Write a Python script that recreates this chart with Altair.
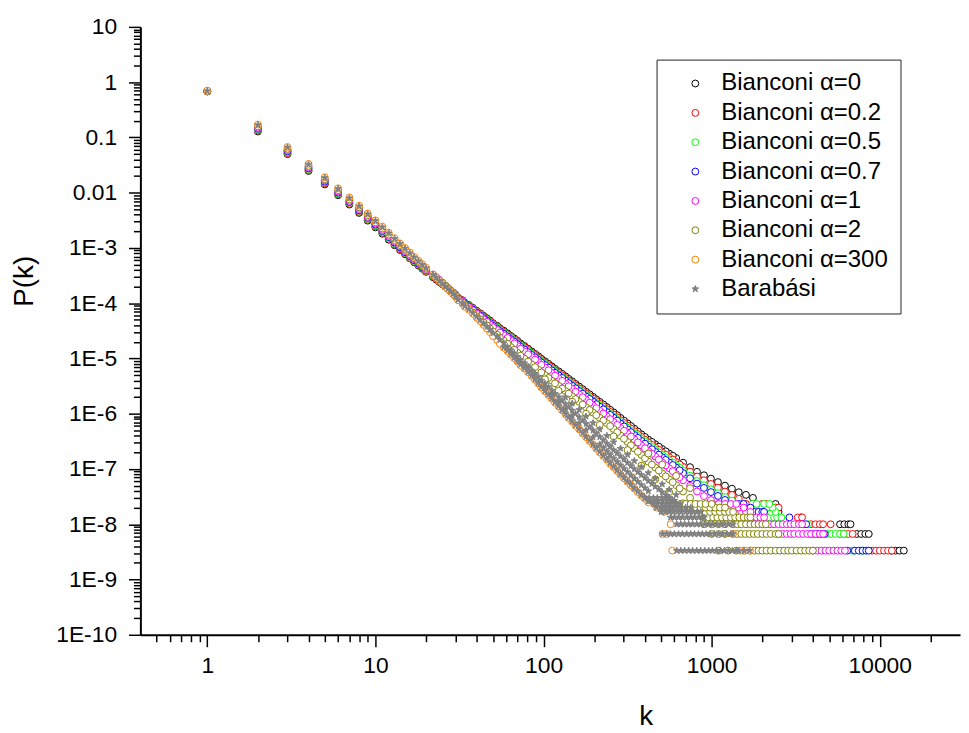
import altair as alt
import pandas as pd

SERIES = ["Bianconi α=0", "Bianconi α=0.2", "Bianconi α=0.5", "Bianconi α=0.7",
          "Bianconi α=1", "Bianconi α=2", "Bianconi α=300", "Barabási"]
COLORS = ["#000000", "#FF0000", "#00FF00", "#0000FF", "#FF00FF", "#808000", "#FF8000", "#808080"]
FILLS = ["#FFFFFF"] * 7 + ["#808080"]
SIZES = [48] * 7 + [75]
STAR = ("M0,-1L0.235,-0.324L0.951,-0.309L0.38,0.124L0.588,0.809L0,0.4"
        "L-0.588,0.809L-0.38,0.124L-0.951,-0.309L-0.235,-0.324Z")
SHAPES = ["circle"] * 7 + [STAR]

# degree values
K_LOW = [1, 2, 3, 4, 5, 6, 7, 8, 9, 10, 11, 12, 13, 14, 15, 16, 17, 18, 19, 20]
K_MID = [22, 24, 26, 28, 30, 33, 36, 40, 44, 48, 53, 58, 64, 70, 77, 85, 93, 102, 112, 123,
         135, 148, 163, 179, 197, 216, 238, 261, 287, 316, 347, 382, 420, 462, 508, 559, 615,
         676, 744, 818, 900, 990, 1090, 1200, 1320, 1450, 1600, 1760]
K_MID2 = [23, 25, 27, 29, 31, 34, 38, 42, 46, 50, 55, 61, 67, 73, 81, 89, 97, 107, 117, 129,
          141, 155, 171, 188, 206, 227, 249, 274, 301, 331, 364, 401, 441, 485, 533, 587, 645]

# P(k), low degrees
BLACK_LOW = [0.68, 0.128, 0.050, 0.0247, 0.0141, 0.0090, 0.0061, 0.0043, 0.00312, 0.00236,
             0.00181, 0.00141, 0.00112, 0.00092, 0.00077, 0.00065, 0.00055, 0.00048, 0.00042, 0.00037]
RED_LOW = [0.68, 0.133, 0.052, 0.0257, 0.0147, 0.0093, 0.0063, 0.0045, 0.00324, 0.00245,
           0.00188, 0.00146, 0.00116, 0.00095, 0.00079, 0.00066, 0.00056, 0.00049, 0.00043, 0.000378]
GREEN_LOW = [0.69, 0.138, 0.054, 0.0267, 0.0153, 0.0097, 0.0066, 0.0047, 0.00336, 0.00254,
             0.00195, 0.00152, 0.00121, 0.00099, 0.00081, 0.00069, 0.00058, 0.00050, 0.00044, 0.000387]
BLUE_LOW = [0.69, 0.143, 0.056, 0.0276, 0.0158, 0.0100, 0.0068, 0.0048, 0.0035, 0.00264,
            0.00202, 0.00157, 0.00125, 0.00102, 0.00084, 0.00071, 0.00060, 0.00052, 0.00045, 0.000395]
MAGENTA_LOW = [0.69, 0.150, 0.059, 0.0289, 0.0166, 0.0105, 0.0071, 0.0051, 0.00365, 0.00276,
               0.00212, 0.00165, 0.00131, 0.00107, 0.00088, 0.00074, 0.00063, 0.00054, 0.00047, 0.00040]
OLIVE_LOW = [0.69, 0.158, 0.062, 0.0305, 0.0175, 0.0111, 0.0075, 0.0054, 0.0039, 0.0029,
             0.00224, 0.00174, 0.00139, 0.00113, 0.00093, 0.00077, 0.00065, 0.00056, 0.00048, 0.00042]
ORANGE_LOW = [0.70, 0.171, 0.067, 0.0332, 0.0190, 0.0120, 0.0082, 0.0058, 0.0042, 0.00316,
              0.00243, 0.00189, 0.0015, 0.00121, 0.0010, 0.00083, 0.00069, 0.00059, 0.00051, 0.00044]
GRAY_LOW = [0.69, 0.168, 0.066, 0.0325, 0.0186, 0.0118, 0.0080, 0.0057, 0.0041, 0.0031,
            0.00238, 0.00185, 0.00147, 0.00119, 0.00098, 0.00081, 0.00068, 0.00058, 0.00050, 0.00043]

# P(k) at K_MID
BLACK_MID = [2.95e-4, 2.42e-4, 2.0e-4, 1.67e-4, 1.41e-4, 1.13e-4, 9.3e-5, 7.3e-5, 5.9e-5, 4.87e-5,
             3.9e-5, 3.18e-5, 2.55e-5, 2.08e-5, 1.68e-5, 1.34e-5, 1.10e-5, 8.9e-6, 7.2e-6, 5.85e-6,
             4.75e-6, 3.86e-6, 3.1e-6, 2.5e-6, 2.02e-6, 1.64e-6, 1.32e-6, 1.06e-6, 8.4e-7, 6.7e-7,
             5.35e-7, 4.25e-7, 3.4e-7, 2.8e-7, 2.3e-7, 1.9e-7, 1.58e-7, 1.3e-7, 1.08e-7, 8.9e-8,
             7.7e-8, 6.7e-8, 5.8e-8, 5.0e-8, 4.4e-8, 3.8e-8, 3.4e-8, 3.0e-8]
RED_MID = [3.04e-4, 2.47e-4, 2.02e-4, 1.67e-4, 1.40e-4, 1.12e-4, 9.16e-5, 7.15e-5, 5.75e-5, 4.72e-5,
           3.76e-5, 3.05e-5, 2.44e-5, 1.98e-5, 1.60e-5, 1.27e-5, 1.04e-5, 8.37e-6, 6.77e-6, 5.47e-6,
           4.44e-6, 3.59e-6, 2.88e-6, 2.31e-6, 1.87e-6, 1.51e-6, 1.21e-6, 9.7e-7, 7.64e-7, 6.06e-7,
           4.82e-7, 3.8e-7, 3.03e-7, 2.46e-7, 2.0e-7, 1.63e-7, 1.34e-7, 1.09e-7, 8.96e-8, 7.3e-8,
           6.24e-8, 5.36e-8, 4.58e-8, 3.9e-8, 3.39e-8, 2.89e-8]
GREEN_MID = [3.13e-4, 2.52e-4, 2.04e-4, 1.67e-4, 1.40e-4, 1.10e-4, 8.93e-5, 6.94e-5, 5.55e-5, 4.55e-5,
             3.63e-5, 2.94e-5, 2.35e-5, 1.90e-5, 1.53e-5, 1.21e-5, 9.9e-6, 7.97e-6, 6.41e-6, 5.18e-6,
             4.18e-6, 3.38e-6, 2.70e-6, 2.16e-6, 1.74e-6, 1.40e-6, 1.12e-6, 8.96e-7, 7.06e-7, 5.59e-7,
             4.44e-7, 3.51e-7, 2.79e-7, 2.24e-7, 1.79e-7, 1.44e-7, 1.17e-7, 9.36e-8, 7.56e-8, 6.05e-8,
             5.08e-8, 4.29e-8, 3.65e-8, 3.1e-8, 2.68e-8]
BLUE_MID = [3.22e-4, 2.57e-4, 2.06e-4, 1.69e-4, 1.39e-4, 1.085e-4, 8.74e-5, 6.75e-5, 5.37e-5, 4.38e-5,
            3.47e-5, 2.81e-5, 2.24e-5, 1.82e-5, 1.46e-5, 1.16e-5, 9.46e-6, 7.61e-6, 6.12e-6, 4.94e-6,
            3.99e-6, 3.22e-6, 2.57e-6, 2.06e-6, 1.66e-6, 1.34e-6, 1.07e-6, 8.48e-7, 6.64e-7, 5.23e-7,
            4.12e-7, 3.23e-7, 2.55e-7, 2.04e-7, 1.63e-7, 1.31e-7, 1.06e-7, 8.45e-8, 6.8e-8, 5.43e-8,
            4.54e-8, 3.82e-8, 3.25e-8, 2.75e-8]
MAGENTA_MID = [3.3e-4, 2.64e-4, 2.1e-4, 1.7e-4, 1.37e-4, 1.06e-4, 8.5e-5, 6.5e-5, 5.13e-5, 4.14e-5,
               3.28e-5, 2.64e-5, 2.09e-5, 1.68e-5, 1.34e-5, 1.06e-5, 8.6e-6, 6.85e-6, 5.47e-6, 4.39e-6,
               3.52e-6, 2.82e-6, 2.23e-6, 1.78e-6, 1.41e-6, 1.13e-6, 8.98e-7, 7.1e-7, 5.54e-7, 4.36e-7,
               3.42e-7, 2.68e-7, 2.11e-7, 1.68e-7, 1.31e-7, 1.03e-7, 8.06e-8, 6.24e-8, 4.97e-8, 3.92e-8,
               3.23e-8, 2.75e-8, 2.32e-8]
OLIVE_MID = [3.25e-4, 2.59e-4, 2.08e-4, 1.67e-4, 1.35e-4, 1.02e-4, 7.9e-5, 5.84e-5, 4.48e-5, 3.51e-5,
             2.69e-5, 2.1e-5, 1.61e-5, 1.27e-5, 9.9e-6, 7.8e-6, 6.27e-6, 4.98e-6, 3.96e-6, 3.19e-6,
             2.57e-6, 2.07e-6, 1.64e-6, 1.31e-6, 1.05e-6, 8.45e-7, 6.73e-7, 5.3e-7, 4.03e-7, 3.08e-7,
             2.35e-7, 1.79e-7, 1.36e-7, 1.06e-7, 8.3e-8, 6.5e-8, 5.1e-8, 3.9e-8, 3.0e-8, 2.3e-8]
ORANGE_MID = [3.3e-4, 2.55e-4, 2.0e-4, 1.61e-4, 1.31e-4, 9.8e-5, 7.6e-5, 5.5e-5, 4.05e-5, 3.0e-5,
              2.15e-5, 1.57e-5, 1.17e-5, 8.8e-6, 6.55e-6, 4.8e-6, 3.52e-6, 2.55e-6, 1.86e-6, 1.35e-6,
              9.8e-7, 7.15e-7, 5.2e-7, 3.77e-7, 2.74e-7, 2.0e-7, 1.47e-7, 1.08e-7, 7.9e-8, 5.85e-8,
              4.4e-8, 3.3e-8, 2.5e-8]
GRAY_MID = [3.3e-4, 2.56e-4, 2.02e-4, 1.63e-4, 1.33e-4, 1.0e-4, 7.8e-5, 5.7e-5, 4.3e-5, 3.3e-5,
            2.5e-5, 1.9e-5, 1.42e-5, 1.08e-5, 8.2e-6, 6.1e-6, 4.6e-6, 3.5e-6, 2.65e-6, 2.0e-6,
            1.5e-6, 1.15e-6, 8.7e-7, 6.6e-7, 5.0e-7, 3.8e-7, 2.9e-7, 2.2e-7, 1.7e-7, 1.3e-7,
            1.0e-7, 7.8e-8, 6.1e-8, 4.8e-8, 3.8e-8, 3.0e-8, 2.4e-8]

# P(k) at K_MID2
BLACK_MID2 = [2.67e-4, 2.2e-4, 1.83e-4, 1.53e-4, 1.26e-4, 1.025e-4, 8.24e-5, 6.56e-5, 5.36e-5, 4.36e-5,
              3.52e-5, 2.85e-5, 2.3e-5, 1.87e-5, 1.5e-5, 1.21e-5, 9.9e-6, 8.0e-6, 6.5e-6, 5.27e-6,
              4.28e-6, 3.46e-6, 2.78e-6, 2.25e-6, 1.82e-6, 1.47e-6, 1.18e-6, 9.44e-7, 7.5e-7, 5.99e-7,
              4.77e-7, 3.8e-7, 3.09e-7, 2.54e-7, 2.09e-7, 1.73e-7]
RED_MID2 = [2.74e-4, 2.23e-4, 1.84e-4, 1.53e-4, 1.25e-4, 1.013e-4, 8.09e-5, 6.41e-5, 5.21e-5, 4.21e-5,
            3.39e-5, 2.73e-5, 2.2e-5, 1.78e-5, 1.43e-5, 1.15e-5, 9.33e-6, 7.53e-6, 6.09e-6, 4.93e-6,
            3.99e-6, 3.22e-6, 2.58e-6, 2.08e-6, 1.68e-6, 1.35e-6, 1.08e-6, 8.61e-7, 6.8e-7, 5.4e-7,
            4.28e-7, 3.39e-7, 2.73e-7, 2.22e-7, 1.81e-7, 1.48e-7, 1.21e-7]
GREEN_MID2 = [2.81e-4, 2.27e-4, 1.85e-4, 1.53e-4, 1.24e-4, 9.91e-5, 7.87e-5, 6.21e-5, 5.03e-5, 4.06e-5,
              3.27e-5, 2.63e-5, 2.11e-5, 1.7e-5, 1.36e-5, 1.09e-5, 8.88e-6, 7.15e-6, 5.76e-6, 4.65e-6,
              3.76e-6, 3.02e-6, 2.41e-6, 1.94e-6, 1.56e-6, 1.25e-6, 1.0e-6, 7.95e-7, 6.28e-7, 4.98e-7,
              3.95e-7, 3.13e-7, 2.5e-7, 2.0e-7, 1.61e-7, 1.3e-7, 1.05e-7]
BLUE_MID2 = [2.88e-4, 2.3e-4, 1.87e-4, 1.53e-4, 1.23e-4, 9.74e-5, 7.68e-5, 6.02e-5, 4.85e-5, 3.9e-5,
             3.12e-5, 2.51e-5, 2.02e-5, 1.63e-5, 1.3e-5, 1.05e-5, 8.48e-6, 6.82e-6, 5.5e-6, 4.44e-6,
             3.58e-6, 2.88e-6, 2.3e-6, 1.85e-6, 1.49e-6, 1.2e-6, 9.53e-7, 7.5e-7, 5.89e-7, 4.64e-7,
             3.65e-7, 2.87e-7, 2.28e-7, 1.82e-7, 1.46e-7, 1.18e-7, 9.46e-8]
MAGENTA_MID2 = [2.95e-4, 2.35e-4, 1.89e-4, 1.53e-4, 1.21e-4, 9.49e-5, 7.43e-5, 5.77e-5, 4.61e-5, 3.68e-5,
                2.94e-5, 2.35e-5, 1.87e-5, 1.5e-5, 1.19e-5, 9.55e-6, 7.68e-6, 6.12e-6, 4.9e-6, 3.93e-6,
                3.15e-6, 2.51e-6, 1.99e-6, 1.58e-6, 1.26e-6, 1.01e-6, 7.98e-7, 6.27e-7, 4.91e-7, 3.86e-7,
                3.03e-7, 2.38e-7, 1.88e-7, 1.48e-7, 1.16e-7, 9.11e-8, 7.09e-8]
OLIVE_MID2 = [2.9e-4, 2.32e-4, 1.86e-4, 1.5e-4, 1.17e-4, 8.98e-5, 6.79e-5, 5.11e-5, 3.97e-5, 3.07e-5,
              2.38e-5, 1.84e-5, 1.43e-5, 1.12e-5, 8.79e-6, 6.99e-6, 5.59e-6, 4.44e-6, 3.55e-6, 2.86e-6,
              2.31e-6, 1.84e-6, 1.47e-6, 1.17e-6, 9.42e-7, 7.54e-7, 5.97e-7, 4.62e-7, 3.52e-7, 2.69e-7,
              2.05e-7, 1.56e-7, 1.2e-7, 9.38e-8, 7.35e-8, 5.76e-8, 4.46e-8]
ORANGE_MID2 = [2.9e-4, 2.26e-4, 1.79e-4, 1.45e-4, 1.13e-4, 8.63e-5, 6.47e-5, 4.72e-5, 3.49e-5, 2.54e-5,
               1.83e-5, 1.35e-5, 1.01e-5, 7.55e-6, 5.6e-6, 4.1e-6, 3.0e-6, 2.17e-6, 1.58e-6, 1.15e-6,
               8.35e-7, 6.05e-7, 4.4e-7, 3.2e-7, 2.34e-7, 1.71e-7, 1.25e-7, 9.2e-8, 6.8e-8, 5.05e-8,
               3.8e-8, 2.9e-8]
GRAY_MID2 = [2.91e-4, 2.27e-4, 1.81e-4, 1.47e-4, 1.15e-4, 8.83e-5, 6.67e-5, 4.95e-5, 3.77e-5, 2.87e-5,
             2.18e-5, 1.64e-5, 1.24e-5, 9.41e-6, 7.07e-6, 5.3e-6, 4.01e-6, 3.05e-6, 2.3e-6, 1.73e-6,
             1.31e-6, 1.0e-6, 7.58e-7, 5.74e-7, 4.36e-7, 3.32e-7, 2.53e-7, 1.93e-7, 1.49e-7, 1.14e-7,
             8.83e-8, 6.9e-8, 5.41e-8, 4.27e-8, 3.38e-8, 2.68e-8]

# spread of the broad bands
GRAY_UPPER_K = [135, 148, 163, 179, 197, 216, 238, 261, 287, 316, 347, 382, 420, 462, 508, 559, 615]
GRAY_UPPER_P = [2.0e-6, 1.54e-6, 1.18e-6, 8.96e-7, 6.8e-7, 5.22e-7, 4.0e-7, 3.07e-7, 2.35e-7, 1.81e-7,
                1.4e-7, 1.09e-7, 8.5e-8, 6.71e-8, 5.3e-8, 4.24e-8, 3.4e-8]
GRAY_INNER_K = [102, 112, 123, 135, 148, 163, 179, 197, 216, 227, 238, 249, 261, 274, 287, 301,
                316, 331, 347, 364, 382, 401, 420]
GRAY_INNER_P = [3.02e-6, 2.24e-6, 1.66e-6, 1.22e-6, 9.16e-7, 6.79e-7, 5.04e-7, 3.74e-7, 2.79e-7,
                2.41e-7, 2.09e-7, 1.8e-7, 1.56e-7, 1.35e-7, 1.17e-7, 1.02e-7, 8.83e-8, 7.7e-8,
                6.71e-8, 5.88e-8, 5.15e-8, 4.53e-8, 3.98e-8]
GRAY_LOWER_K = [58, 61, 64, 67, 70, 73, 77, 81, 85, 89, 93, 97, 102, 107, 112, 117, 123, 129, 135, 141,
                148, 155, 163, 171, 179, 188, 197, 206, 216, 227, 238, 249, 261, 274, 287, 301, 316,
                331, 347, 364, 382, 401, 420]
GRAY_LOWER_P = [1.6e-5, 1.39e-5, 1.2e-5, 1.04e-5, 9.0e-6, 7.77e-6, 6.7e-6, 5.73e-6, 4.9e-6, 4.2e-6,
                3.6e-6, 3.06e-6, 2.6e-6, 2.22e-6, 1.9e-6, 1.62e-6, 1.38e-6, 1.17e-6, 1.0e-6, 8.54e-7,
                7.3e-7, 6.22e-7, 5.3e-7, 4.52e-7, 3.85e-7, 3.28e-7, 2.8e-7, 2.4e-7, 2.05e-7, 1.75e-7,
                1.5e-7, 1.28e-7, 1.1e-7, 9.44e-8, 8.1e-8, 6.97e-8, 6.0e-8, 5.2e-8, 4.5e-8, 3.91e-8,
                3.4e-8, 2.97e-8, 2.6e-8]
OLIVE_LOWER_K = [102, 123, 148, 179, 216, 261, 316, 382, 462, 559, 676]
OLIVE_LOWER_P = [4.2e-6, 2.6e-6, 1.65e-6, 1.0e-6, 6.3e-7, 3.9e-7, 2.2e-7, 1.15e-7, 6.5e-8, 3.8e-8, 2.4e-8]
OLIVE_UPPER_K = [420, 508, 615, 744]
OLIVE_UPPER_P = [1.9e-7, 1.2e-7, 7.5e-8, 4.5e-8]
ORANGE_ISO_K = [338, 460, 470, 520]
ORANGE_ISO_P = [6.9e-8, 2.33e-8, 2.0e-8, 1.67e-8]

# discrete low-count levels in the tail: (series, P level, degrees)
TAIL = [
    ("Bianconi α=0", 3.33e-9, [11700, 12400, 13100, 13900]),
    ("Bianconi α=0", 6.67e-9, [7300, 7750, 8200, 8600]),
    ("Bianconi α=0", 1.0e-8, [5800, 6150, 6500, 6700]),
    ("Bianconi α=0", 1.33e-8, [3400]),
    ("Bianconi α=0", 1.67e-8, [2500]),
    ("Bianconi α=0", 2.33e-8, [2400]),
    ("Bianconi α=0.2", 3.33e-9, [9000, 9500, 10000, 10600, 11200, 11800]),
    ("Bianconi α=0.2", 6.67e-9, [5800, 6150, 6500, 6900]),
    ("Bianconi α=0.2", 1.0e-8, [3900, 4150, 4400, 4600, 5100]),
    ("Bianconi α=0.2", 1.33e-8, [3250, 3450]),
    ("Bianconi α=0.2", 2.0e-8, [1800, 1950, 2050, 2400, 2500]),
    ("Bianconi α=0.2", 2.33e-8, [1600, 2000, 2100]),
    ("Bianconi α=0.5", 3.33e-9, [6800, 7000, 7700, 8000]),
    ("Bianconi α=0.5", 6.67e-9, [4900, 5150, 5450, 5800, 6100]),
    ("Bianconi α=0.5", 1.0e-8, [3750]),
    ("Bianconi α=0.5", 1.33e-8, [2200, 2350, 2450, 2600]),
    ("Bianconi α=0.5", 1.67e-8, [2100, 2250, 2400]),
    ("Bianconi α=0.5", 2.0e-8, [2000, 2150, 2300]),
    ("Bianconi α=0.5", 2.33e-8, [1750, 1850, 2050, 2200]),
    ("Bianconi α=0.7", 3.33e-9, [6400, 7100, 7500, 7900, 8300, 8600]),
    ("Bianconi α=0.7", 6.67e-9, [3900, 4100, 4300, 4500, 4700]),
    ("Bianconi α=0.7", 1.0e-8, [3500, 3650]),
    ("Bianconi α=0.7", 1.33e-8, [2900]),
    ("Bianconi α=0.7", 1.67e-8, [1700, 1800, 1900, 2000, 2050]),
    ("Bianconi α=0.7", 2.0e-8, [1700]),
    ("Bianconi α=0.7", 2.33e-8, [1450, 1550]),
    ("Bianconi α=1", 3.33e-9, [4000, 4250, 4500, 4750, 5000, 5300, 5600, 5900, 6200]),
    ("Bianconi α=1", 6.67e-9, [2500, 2650, 2800, 2950, 3100, 3300, 3500, 3700, 3900, 4150, 4400, 4600]),
    ("Bianconi α=1", 1.0e-8, [2100, 2220, 2350, 2500, 2650, 2800, 2950, 3100, 3300, 3450]),
    ("Bianconi α=1", 1.33e-8, [1750, 1850, 1950, 2050]),
    ("Bianconi α=1", 1.67e-8, [1340, 1420, 1500, 1600, 1700]),
    ("Bianconi α=1", 2.0e-8, [1200, 1280, 1360, 1450, 1550]),
    ("Bianconi α=1", 2.33e-8, [1000, 1100, 1200, 1300, 1400]),
    ("Bianconi α=2", 3.33e-9, [1100, 1250, 1400, 1550, 1700, 1800, 1900, 2000, 2120, 2250, 2400,
                               2550, 2700, 2850, 3000, 3200, 3400, 3600, 3800, 4000]),
    ("Bianconi α=2", 6.67e-9, [1000, 1100, 1200, 1340, 1420, 1500, 1590, 1680, 1780, 1880, 2000,
                               2120, 2250, 2400, 2500]),
    ("Bianconi α=2", 1.0e-8, [900, 1000, 1100, 1200, 1340, 1420, 1500, 1600, 1700, 1800, 1900,
                              2000, 2100]),
    ("Bianconi α=2", 1.33e-8, [900, 960, 1020, 1080, 1150, 1220, 1300, 1380, 1460, 1550, 1640, 1700]),
    ("Bianconi α=2", 1.67e-8, [860, 920, 980, 1050, 1120, 1200, 1270, 1340]),
    ("Bianconi α=2", 2.0e-8, [750, 800, 860, 920, 980, 1050, 1120, 1200]),
    ("Bianconi α=2", 2.33e-8, [650, 700, 750, 800, 860, 920, 1000]),
    ("Bianconi α=300", 3.33e-9, [583, 1480, 1580, 1690]),
    ("Bianconi α=300", 6.67e-9, [510, 540, 1340]),
    ("Bianconi α=300", 1.0e-8, [570]),
    ("Barabási", 3.33e-9, [620, 655, 690, 730, 770, 815, 860, 910, 960, 1010, 1070, 1130, 1190,
                           1260, 1330, 1400, 1450, 1560, 1680]),
    ("Barabási", 6.67e-9, [510, 540, 570, 600, 635, 670, 710, 750, 790, 835, 880, 930, 980, 1040,
                           1100, 1160, 1230, 1300, 1340]),
    ("Barabási", 1.0e-8, [620, 655, 690, 730, 770, 815, 860, 910, 960, 1010, 1070, 1130, 1190,
                          1260, 1340]),
    ("Barabási", 1.33e-8, [570, 600, 635, 670, 710, 750, 790, 835, 880, 900]),
    ("Barabási", 1.67e-8, [500, 530, 560, 590, 625, 660, 700, 740, 780, 820, 860]),
    ("Barabási", 2.0e-8, [470, 500, 530, 560, 590, 625, 660, 700, 750]),
    ("Barabási", 2.33e-8, [450, 475, 505, 535, 565, 600, 650]),
    ("Barabási", 2.67e-8, [430, 455, 480, 510, 540, 570, 600]),
    ("Barabási", 3.0e-8, [400, 425, 450, 475, 505, 535, 560]),
]

X_MAJOR = [1, 10, 100, 1000, 10000]
X_MINOR = [0.5, 0.6, 0.7, 0.8, 0.9] + [m * d for d in [1, 10, 100, 1000] for m in range(2, 10)] + [20000]
Y_MAJOR = [1e-10, 1e-9, 1e-8, 1e-7, 1e-6, 1e-5, 1e-4, 1e-3, 0.01, 0.1, 1, 10]
Y_MINOR = [m * d for d in Y_MAJOR[:-1] for m in range(2, 10)]

BODY = {
    SERIES[0]: (BLACK_LOW, BLACK_MID, BLACK_MID2),
    SERIES[1]: (RED_LOW, RED_MID, RED_MID2),
    SERIES[2]: (GREEN_LOW, GREEN_MID, GREEN_MID2),
    SERIES[3]: (BLUE_LOW, BLUE_MID, BLUE_MID2),
    SERIES[4]: (MAGENTA_LOW, MAGENTA_MID, MAGENTA_MID2),
    SERIES[5]: (OLIVE_LOW, OLIVE_MID, OLIVE_MID2),
    SERIES[6]: (ORANGE_LOW, ORANGE_MID, ORANGE_MID2),
    SERIES[7]: (GRAY_LOW, GRAY_MID, GRAY_MID2),
}
EXTRA = {
    SERIES[5]: [(OLIVE_LOWER_K, OLIVE_LOWER_P), (OLIVE_UPPER_K, OLIVE_UPPER_P)],
    SERIES[6]: [(ORANGE_ISO_K, ORANGE_ISO_P)],
    SERIES[7]: [(GRAY_UPPER_K, GRAY_UPPER_P), (GRAY_INNER_K, GRAY_INNER_P),
                (GRAY_LOWER_K, GRAY_LOWER_P)],
}

rows = []
for s in SERIES:
    lo, mid, mid2 = BODY[s]
    rows += [(s, k, p) for k, p in zip(K_LOW, lo)]
    rows += [(s, k, p) for k, p in zip(K_MID, mid)]
    rows += [(s, k, p) for k, p in zip(K_MID2, mid2)]
    for ks, ps in EXTRA.get(s, []):
        rows += [(s, k, p) for k, p in zip(ks, ps)]
    for ss, p, ks in TAIL:
        if ss == s:
            rows += [(s, k, p) for k in ks]
df = pd.DataFrame(rows, columns=["series", "k", "P"])
df["idx"] = range(len(df))

MAJOR = "abs(log(datum.value)/LN10 - round(log(datum.value)/LN10)) < 0.001"
FONT = "Liberation Sans"

legend = alt.Legend(
    title=None, orient="none", legendX=520.5, legendY=33,
    padding=12, symbolOffset=15, labelOffset=14, rowPadding=4.6,
    labelFont=FONT, labelFontSize=24.2, labelColor="black", labelLimit=400,
    symbolStrokeWidth=1, strokeColor="#222222", fillColor="white",
)

xaxis = alt.Axis(
    values=X_MAJOR + X_MINOR,
    labelExpr=f"{MAJOR} ? format(datum.value, 'd') : ''",
    tickSize={"condition": {"test": MAJOR, "value": 12}, "value": 7},
    labelPadding=8, labelOverlap=False, labelFlush=False, grid=False,
    title="k", titleX=509.5, titleY=82, titleBaseline="middle", titleAlign="center",
)
yaxis = alt.Axis(
    values=Y_MAJOR + Y_MINOR,
    labelExpr=(f"{MAJOR} ? (datum.value >= 0.01 ? format(datum.value, '') : "
               "'1E-' + format(-round(log(datum.value)/LN10), 'd')) : ''"),
    tickSize={"condition": {"test": MAJOR, "value": 12}, "value": 7},
    labelPadding=12, labelOverlap=False, labelFlush=False, grid=False,
    title="P(k)", titleX=-116.5, titleY=256, titleAngle=270,
    titleBaseline="middle", titleAlign="center",
)

chart = alt.Chart(df).mark_point(filled=True, opacity=1, strokeWidth=1).encode(
    x=alt.X("k:Q", scale=alt.Scale(type="log", domain=[0.4, 30000], nice=False), axis=xaxis),
    y=alt.Y("P:Q", scale=alt.Scale(type="log", domain=[1e-10, 10], nice=False), axis=yaxis),
    stroke=alt.Stroke("series:N", scale=alt.Scale(domain=SERIES, range=COLORS), legend=legend),
    fill=alt.Fill("series:N", scale=alt.Scale(domain=SERIES, range=FILLS), legend=legend),
    shape=alt.Shape("series:N", scale=alt.Scale(domain=SERIES, range=SHAPES), legend=legend),
    size=alt.Size("series:N", scale=alt.Scale(domain=SERIES, range=SIZES), legend=legend),
    order=alt.Order("idx:Q"),
).properties(
    width=826.5, height=613, autosize="none",
    padding={"left": 133.5, "top": 16, "right": 1, "bottom": 96},
).configure_view(stroke=None).configure_axis(
    domainColor="black", domainWidth=2, tickColor="black", tickWidth=1.5,
    labelFont=FONT, labelFontSize=23, labelColor="black",
    titleFont=FONT, titleFontSize=28, titleFontWeight="normal", titleColor="black",
)

chart.save("out.html", embed_options={"renderer": "svg", "actions": False})
